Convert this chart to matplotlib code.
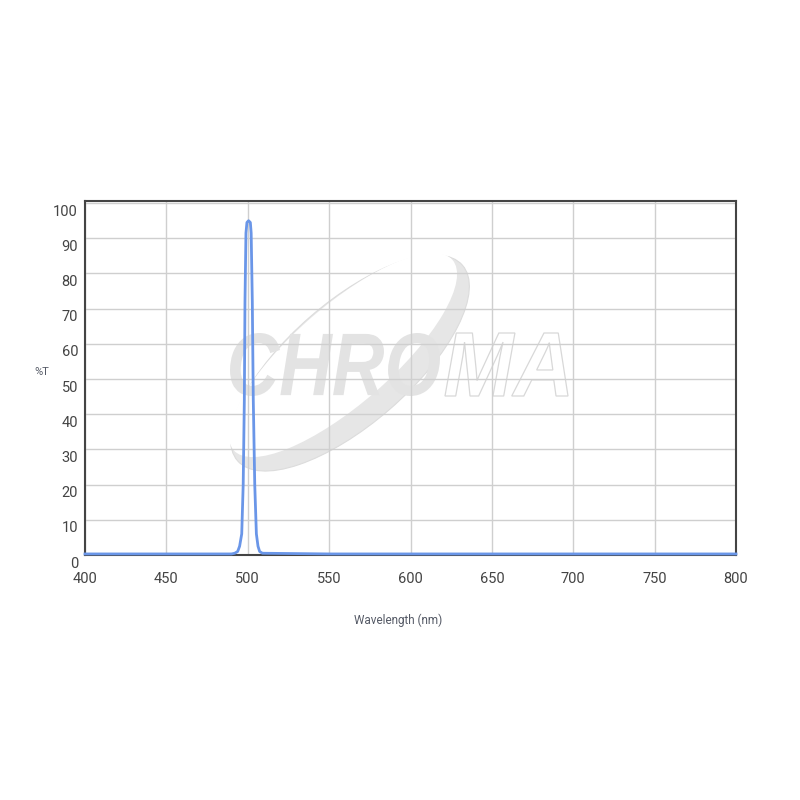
import matplotlib
matplotlib.use("Agg")
import matplotlib.pyplot as plt
from matplotlib.patches import Ellipse, PathPatch
from matplotlib.textpath import TextPath
from matplotlib.font_manager import FontProperties
from matplotlib.transforms import Affine2D, ScaledTranslation

plt.rcParams['font.family'] = ['Roboto', 'DejaVu Sans']

# Transmission spectrum
wavelength = [400, 450, 490, 492, 493.8, 495, 496.3, 497.2, 497.9, 498.3, 498.9, 499.5,
              500.5, 501.6, 502.1, 502.8, 503.4, 504.3, 505.3, 506.3, 507.3, 509,
              550, 650, 800]
transmission = [0.3, 0.3, 0.3, 0.5, 1, 2.5, 6, 20, 44, 72, 91.5, 94.5,
                95, 94.5, 91.5, 72, 44, 20, 6, 2.5, 1, 0.5,
                0.3, 0.3, 0.3]

x_ticks = [400, 450, 500, 550, 600, 650, 700, 750, 800]
y_ticks = [0, 10, 20, 30, 40, 50, 60, 70, 80, 90, 100]

fig = plt.figure(figsize=(8, 8), dpi=100)
fig.patch.set_facecolor('white')
ax = fig.add_axes([85 / 800, 1 - 555 / 800, 651 / 800, 354 / 800])
ax.set_facecolor('white')


def logo_word(text, box, face, edge):
    # stretch a text path into a pixel box (figure fraction)
    fp = FontProperties(family='Liberation Sans', weight='bold', style='italic')
    tp = TextPath((0, 0), text, size=1, prop=fp)
    ext = tp.get_extents()
    x0, y0, x1, y1 = box
    tr = (Affine2D().translate(-ext.x0, -ext.y0)
          .scale((x1 - x0) / ext.width, (y1 - y0) / ext.height)
          .translate(x0, y0))
    patch = PathPatch(tr.transform_path(tp), facecolor=face, edgecolor=edge,
                      lw=0.9, transform=fig.transFigure, zorder=0.3)
    ax.add_patch(patch)


# watermark logo (pixel positions / 800)
outer = Ellipse((350 / 800, 1 - 363 / 800), 298 / 800, 122 / 800, angle=41,
                facecolor='#e6e6e6', edgecolor='#dcdcdc', lw=0.8,
                transform=fig.transFigure, zorder=0.1)
inner = Ellipse((343 / 800, 1 - 355 / 800), 290 / 800, 98 / 800, angle=41,
                facecolor='white', edgecolor='none',
                transform=fig.transFigure, zorder=0.2)
ax.add_patch(outer)
ax.add_patch(inner)
logo_word('CHRO', (230 / 800, 1 - 396 / 800, 440 / 800, 1 - 333 / 800), '#e3e3e3', 'none')
logo_word('MA', (445 / 800, 1 - 396 / 800, 568 / 800, 1 - 333 / 800), 'white', '#d8d8d8')

ax.plot(wavelength, transmission, color='#6a96e8', lw=2, zorder=3, clip_on=False)

ax.set_xlim(400, 800)
ax.set_ylim(0, 100.6)
ax.set_xticks(x_ticks)
ax.set_yticks(y_ticks)
ax.set_axisbelow(True)
ax.grid(True, color='#cfcfcf', lw=1, zorder=0.5)
ax.tick_params(axis='both', length=0, labelsize=10.5, labelcolor='#444444')
ax.tick_params(axis='x', pad=12)
ax.tick_params(axis='y', pad=5)
for lbl in ax.get_yticklabels():
    lbl.set_transform(lbl.get_transform() + ScaledTranslation(0, -7 / 100, fig.dpi_scale_trans))

for side in ['top', 'left', 'right', 'bottom']:
    ax.spines[side].set_color('#444444')
    ax.spines[side].set_linewidth(1.5)

fig.text(42 / 800, 1 - 372 / 800, '%T', fontsize=8, color='#555a66', ha='center', va='center')
fig.text(398 / 800, 1 - 620 / 800, 'Wavelength (nm)', fontsize=8.5, color='#555a66',
         ha='center', va='center')

fig.savefig('out.png', dpi=100)
